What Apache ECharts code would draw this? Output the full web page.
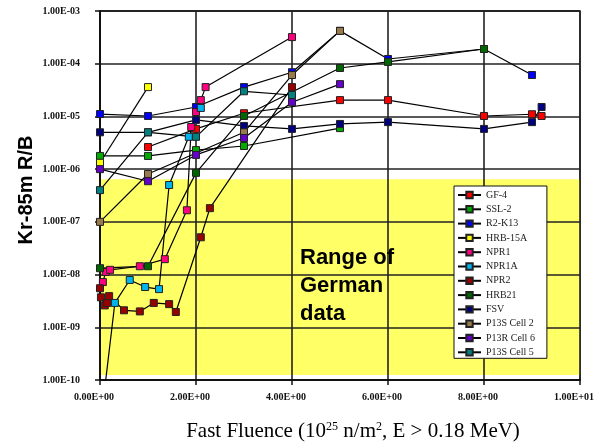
<!DOCTYPE html>
<html>
<head>
<meta charset="utf-8">
<script src="https://cdn.jsdelivr.net/npm/echarts@6/dist/echarts.min.js"></script>
<style>
html,body{margin:0;padding:0;background:#fff;}
#chart{width:602px;height:444px;}
</style>
</head>
<body>
<div id="chart"></div>
<script>
// ---- data ----
const seriesNames = ['GF-4','SSL-2','R2-K13','HRB-15A','NPR1','NPR1A','NPR2','HRB21','FSV','P13S Cell 2','P13R Cell 6','P13S Cell 5'];

const GF4    = [[1.0,2.63e-6],[2.0,5.8e-6],[3.0,1.15e-5],[5.0,2.04e-5],[6.0,2.04e-5],[8.0,1.02e-5],[9.0,1.1e-5],[9.2,1.02e-5]];
const SSL2   = [[0,1.78e-6],[1,1.78e-6],[2,2.3e-6],[3,2.75e-6],[5,6.0e-6]];
const R2K13  = [[0,1.11e-5],[1,1.02e-5],[2,1.51e-5],[3,3.6e-5],[4,6.9e-5],[5,4.2e-4],[6,1.23e-4],[8,1.9e-4],[9,6.1e-5]];
const HRB15A = [[0,1.32e-6],[1,3.6e-5]];
const NPR1   = [[0.06,7.2e-9],[0.12,1.12e-8],[0.21,1.23e-8],[0.83,1.44e-8],[1.35,1.96e-8],[1.81,1.66e-7],[1.9,6.3e-6],[2.0,1.21e-5],[2.1,2.04e-5],[2.2,3.6e-5],[4.0,3.2e-4]];
const NPR1A  = [[0.08,5e-11],[0.31,2.9e-9],[0.62,7.9e-9],[0.94,5.8e-9],[1.23,5.3e-9],[1.44,5.0e-7],[1.85,4.1e-6],[2.1,1.45e-5]];
const NPR2   = [[0,5.5e-9],[0.02,3.7e-9],[0.1,2.6e-9],[0.15,2.9e-9],[0.19,3.9e-9],[0.5,2.1e-9],[0.83,2.0e-9],[1.12,2.9e-9],[1.44,2.75e-9],[1.58,1.95e-9],[2.1,5.1e-8],[2.29,1.82e-7],[4.0,3.6e-5]];
const HRB21  = [[0,1.32e-8],[1,1.44e-8],[2,8.5e-7],[3,1.02e-5],[5,8.3e-5],[6,1.08e-4],[8,1.9e-4]];
const FSV    = [[0,5.0e-6],[1,5.0e-6],[2,8.6e-6],[3,6.6e-6],[4,5.8e-6],[5,7.2e-6],[6,7.8e-6],[8,5.8e-6],[9,7.8e-6],[9.2,1.51e-5]];
const P13S2  = [[0,1.0e-7],[1,8.1e-7],[3,5.0e-6],[4,6.1e-5],[5,4.2e-4]];
const P13R6  = [[0,1.0e-6],[1,5.9e-7],[2,1.86e-6],[3,3.9e-6],[4,1.86e-5],[5,4.1e-5]];
const P13S5  = [[0,4.0e-7],[1,5.0e-6],[2,4.1e-6],[3,3.0e-5],[4,2.55e-5]];

const germanRange = [1.24e-10, 6.4e-7];   // y-range of the shaded "German data" band
const xRange = [0, 10];
const yRange = [1e-10, 1e-3];

const seriesData = [GF4,SSL2,R2K13,HRB15A,NPR1,NPR1A,NPR2,HRB21,FSV,P13S2,P13R6,P13S5];
const colors = ['#ff0000','#00aa00','#0000ff','#ffff00','#ff0080','#00b4f0','#990000','#006600','#000080','#9a7a4a','#6600cc','#008080'];

function sci(v){
  if (v === 0) return '0.00E+00';
  let e = Math.floor(Math.log10(Math.abs(v)) + 1e-9);
  let m = v / Math.pow(10, e);
  return m.toFixed(2) + 'E' + (e < 0 ? '-' : '+') + String(Math.abs(e)).padStart(2, '0');
}

const chart = echarts.init(document.getElementById('chart'), null, {renderer:'canvas'});

const lineSeries = seriesNames.map((n, i) => ({
  name: n,
  type: 'line',
  data: seriesData[i],
  z: 3,
  clip: true,
  symbol: 'rect',
  symbolSize: 7,
  lineStyle: {color: '#000', width: 1.2},
  itemStyle: {color: colors[i], borderColor: '#222', borderWidth: 1},
  emphasis: {disabled: true},
  animation: false
}));

const band = {
  name: 'band',
  type: 'line',
  data: [[5, 1e-5]],
  symbol: 'none',
  lineStyle: {opacity: 0},
  z: 1,
  silent: true,
  animation: false,
  markArea: {
    silent: true,
    z: 1,
    itemStyle: {color: '#ffff66', opacity: 1},
    data: [[{coord: [xRange[0], germanRange[0]]}, {coord: [xRange[1], germanRange[1]]}]]
  }
};

const option = {
  animation: false,
  backgroundColor: '#fff',
  grid: {left: 100, right: 22, top: 11, bottom: 64, show: true, borderColor: '#222', borderWidth: 1.5, backgroundColor: 'transparent'},
  xAxis: {
    type: 'value', min: xRange[0], max: xRange[1], interval: 2, z: 2,
    axisLine: {onZero: false, lineStyle: {color: '#111', width: 2}},
    axisTick: {show: true, length: 5, lineStyle: {color: '#111', width: 1.5}},
    splitLine: {show: true, lineStyle: {color: '#222', width: 1.6}},
    axisLabel: {formatter: sci, fontFamily: 'Liberation Serif', fontWeight: 'bold', fontSize: 10, color: '#111', margin: 12, padding: [0, 12, 0, 0]}
  },
  yAxis: {
    type: 'log', logBase: 10, min: yRange[0], max: yRange[1], z: 2,
    axisLine: {lineStyle: {color: '#111', width: 2}},
    axisTick: {show: true, length: 5, lineStyle: {color: '#111', width: 1.5}},
    splitLine: {show: true, lineStyle: {color: '#222', width: 1.6}},
    minorTick: {show: false},
    axisLabel: {formatter: sci, fontFamily: 'Liberation Serif', fontWeight: 'bold', fontSize: 10, color: '#111', margin: 20, padding: [6,0,0,0]}
  },
  legend: {
    data: seriesNames,
    orient: 'vertical',
    left: 454, top: 186,
    padding: [4, 12, 1, 3],
    itemWidth: 23, itemHeight: 8, itemGap: 4.3,
    backgroundColor: '#fff', borderColor: '#111', borderWidth: 1,
    textStyle: {fontFamily: 'Liberation Serif', fontSize: 10, color: '#222', lineHeight: 10},
    selectedMode: false
  },
  graphic: [
    {type: 'text', left: 300, top: 244, z: 10,
     style: {text: 'Range of\nGerman\ndata', font: 'bold 22px "Liberation Sans", Arial, sans-serif', fill: '#000', lineHeight: 28}},
    {type: 'text', x: 26, y: 190, rotation: Math.PI/2, z: 10,
     style: {text: 'Kr-85m R/B', font: 'bold 20px "Liberation Sans", Arial, sans-serif', fill: '#000', align: 'center', verticalAlign: 'middle'}},
    {type: 'text', x: 353, y: 431, z: 10,
     style: {
       text: '{n|Fast Fluence (10}{s|25}{n| n/m}{s|2}{n|, E > 0.18 MeV)}',
       align: 'center', verticalAlign: 'middle',
       rich: {
         n: {font: '21px "Liberation Serif", "Times New Roman", serif', fill: '#000'},
         s: {font: '12px "Liberation Serif", "Times New Roman", serif', fill: '#000', verticalAlign: 'top', padding: [0,0,9,0]}
       }
     }}
  ],
  series: [band].concat(lineSeries)
};

chart.setOption(option);
</script>
</body>
</html>
